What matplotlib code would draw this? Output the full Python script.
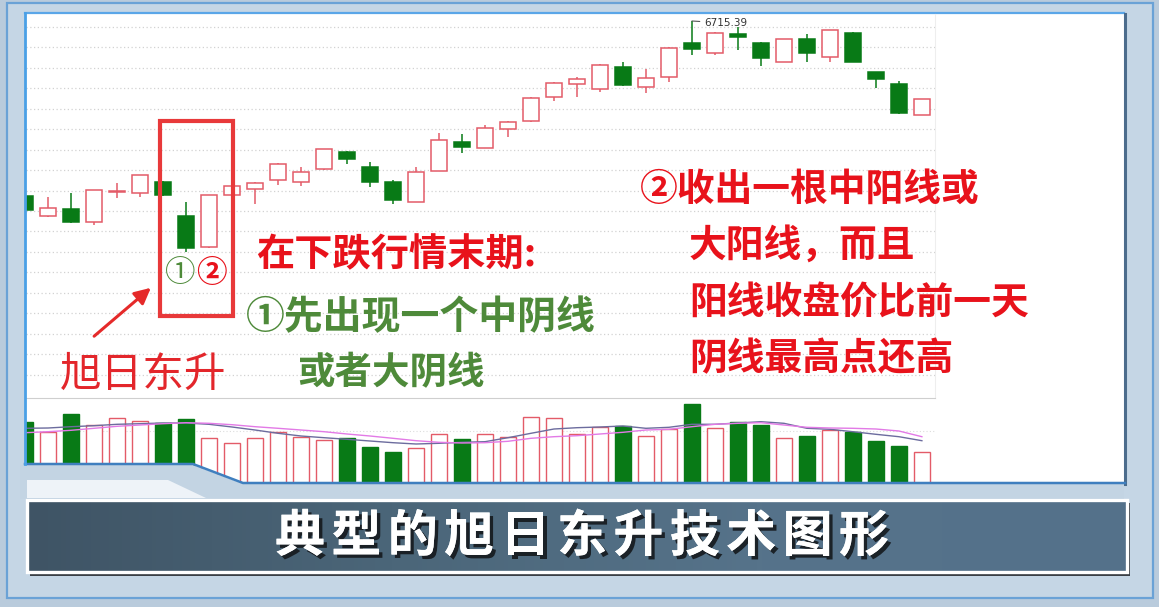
import numpy as np
import matplotlib.pyplot as plt
from matplotlib.patches import Rectangle, Polygon
from matplotlib.colors import LinearSegmentedColormap
import matplotlib.patheffects as pe

CJK = ['Noto Sans CJK SC', 'DejaVu Sans']
plt.rcParams['font.family'] = CJK

# daily candles, index points
opens  = [5840, 5740, 5775, 5710, 5860, 5855, 5910, 5740, 5585, 5845,
          5875, 5920, 5910, 5975, 6060, 5985, 5910, 5810, 5965, 6110,
          6080, 6175, 6215, 6335, 6400, 6375, 6485, 6385, 6435, 6605,
          6555, 6650, 6605, 6510, 6625, 6535, 6655, 6460, 6400, 6245]
highs  = [5850, 5835, 5855, 5870, 5905, 5945, 5915, 5810, 5845, 5890,
          5910, 6005, 5985, 6075, 6065, 6010, 5920, 5985, 6155, 6150,
          6195, 6215, 6335, 6410, 6435, 6500, 6510, 6475, 6585, 6715.39,
          6660, 6685, 6610, 6625, 6650, 6670, 6660, 6460, 6415, 6325]
lows   = [5760, 5735, 5705, 5695, 5830, 5835, 5840, 5560, 5580, 5840,
          5800, 5895, 5890, 5970, 6000, 5885, 5800, 5810, 5965, 6055,
          6080, 6135, 6210, 6315, 6335, 6360, 6390, 6355, 6410, 6545,
          6545, 6570, 6490, 6510, 6510, 6510, 6510, 6380, 6250, 6245]
closes = [5770, 5780, 5710, 5870, 5865, 5945, 5845, 5580, 5845, 5890,
          5905, 6000, 5960, 6075, 6025, 5910, 5820, 5960, 6120, 6085,
          6180, 6210, 6330, 6405, 6425, 6495, 6395, 6430, 6580, 6575,
          6655, 6635, 6530, 6625, 6555, 6670, 6510, 6425, 6255, 6325]
volumes = [1220, 1020, 1380, 1160, 1300, 1240, 1200, 1280, 900, 800,
           900, 1020, 920, 860, 900, 720, 620, 700, 980, 880,
           980, 920, 1320, 1300, 980, 1120, 1140, 940, 1080, 1580,
           1100, 1220, 1160, 900, 940, 1060, 1020, 840, 740, 620]
vol_ma_a = [1094, 1100, 1126, 1146, 1174, 1186, 1200, 1200, 1174, 1120,
            1060, 994, 940, 906, 874, 840, 806, 780, 794, 814,
            826, 906, 994, 1080, 1106, 1120, 1140, 1094, 1114, 1174,
            1174, 1200, 1226, 1194, 1094, 1074, 1026, 974, 926, 846]
vol_ma_b = [1006, 1026, 1054, 1094, 1134, 1160, 1186, 1206, 1194, 1166,
            1126, 1094, 1060, 1026, 980, 940, 894, 846, 814, 800,
            806, 834, 894, 926, 946, 980, 1014, 1060, 1074, 1126,
            1174, 1194, 1206, 1160, 1114, 1100, 1094, 1080, 1040, 926]

peak_idx = 29
peak_label = "6715.39"
title = "典型的旭日东升技术图形"
label_pattern = "旭日东升"
left_lines = ["在下跌行情末期:", "①先出现一个中阴线", "或者大阴线"]
right_lines = ["②收出一根中阳线或", "大阳线，而且", "阳线收盘价比前一天", "阴线最高点还高"]

RED = '#e35b68'
GREEN = '#087a16'
TXT_RED = '#e8121b'
TXT_GREEN = '#4e8a3a'

W, H = 1159, 607
fig = plt.figure(figsize=(W / 100, H / 100), dpi=100)
fig.patch.set_facecolor('#b9cbdc')


def frac(x0, y0, x1, y1):
    return [x0 / W, 1 - y1 / H, (x1 - x0) / W, (y1 - y0) / H]


# ---- background frame, white panel, title bar (pixel space)
bg = fig.add_axes([0, 0, 1, 1], zorder=0)
bg.set_xlim(0, W)
bg.set_ylim(H, 0)
bg.axis('off')
bg.add_patch(Rectangle((7, 3), 1146, 595, fc='#c5d6e5', ec='#6aa2d6', lw=1.6))
bg.add_patch(Rectangle((25, 13), 1099, 470, fc='white', ec='none'))
bg.plot([25, 1124], [13, 13], color='#5aa6e8', lw=1.6)
bg.plot([1125, 1125], [14, 484], color='#4c6c8c', lw=2.2)

grad = np.linspace(0, 1, 256).reshape(1, -1)
bar_cmap = LinearSegmentedColormap.from_list('bar', ['#3f5465', '#4b6679', '#56738a', '#54718a'])
bg.imshow(grad, cmap=bar_cmap, extent=(27, 1127, 572, 500), aspect='auto', zorder=2)
bg.add_patch(Rectangle((29.5, 574), 1100, 2, fc='#3a3f45', ec='none', zorder=2))
bg.add_patch(Rectangle((1128, 502.5), 2, 72, fc='#3a3f45', ec='none', zorder=2))
bg.add_patch(Rectangle((27, 500), 1100, 72, fill=False, ec='white', lw=2.4, zorder=3))
bg.set_xlim(0, W)
bg.set_ylim(H, 0)

# ---- price panel
n = len(opens)
x = np.arange(n)
pax = fig.add_axes(frac(26, 14, 935, 398), zorder=1)
pax.set_facecolor('none')
pax.set_xlim(0.04, 39.57)
pax.set_ylim(4830.39, 6750.39)
pax.set_xticks([])
pax.set_yticks([])
for s in ['top', 'left']:
    pax.spines[s].set_visible(False)
pax.spines['right'].set_color('#eeeeee')
pax.spines['bottom'].set_color('#cfcfcf')
pax.hlines(np.arange(6685.39, 4880, -102.25), 0.04, 39.57,
           colors='#d2d2d2', linestyles=(0, (1, 2)), lw=0.9, zorder=1)

for i in x:
    o, h, l, c = opens[i], highs[i], lows[i], closes[i]
    up = c >= o
    col = RED if up else GREEN
    pax.vlines(i, l, h, color=col, lw=1.1, zorder=2)
    pax.bar(i, max(abs(c - o), 2), bottom=min(o, c), width=0.7,
            facecolor='white' if up else GREEN, edgecolor=col, lw=1.1, zorder=3)

pax.annotate(peak_label, xy=(peak_idx, highs[peak_idx]), xytext=(12, -2),
             textcoords='offset pixels', fontsize=7.5, color='#333333',
             ha='left', va='center', family='DejaVu Sans',
             arrowprops=dict(arrowstyle='-', color='#555555', lw=0.8,
                             shrinkA=1, shrinkB=0))

# ---- volume panel
vax = fig.add_axes(frac(26, 398, 935, 483), zorder=1)
vax.set_facecolor('none')
vax.set_xlim(0.04, 39.57)
vax.set_ylim(0, 1700)
vax.set_xticks([])
vax.set_yticks([])
for s in vax.spines.values():
    s.set_visible(False)
vax.axhline(1040, color='#dddddd', ls=(0, (1, 2)), lw=0.8)
up_mask = np.array(closes) >= np.array(opens)
vax.bar(x[up_mask], np.array(volumes)[up_mask], width=0.7, facecolor='white',
        edgecolor=RED, lw=1.0, zorder=2)
vax.bar(x[~up_mask], np.array(volumes)[~up_mask], width=0.7, facecolor=GREEN,
        edgecolor=GREEN, lw=1.0, zorder=2)
vax.plot(x, vol_ma_a, color='#6c6c9e', lw=1.0, zorder=3)
vax.plot(x, vol_ma_b, color='#e27ae6', lw=1.0, zorder=3)

# ---- overlay: stepped cut-out and annotations (pixel space)
ov = fig.add_axes([0, 0, 1, 1], zorder=5)
ov.set_xlim(0, W)
ov.set_ylim(H, 0)
ov.axis('off')
ov.patch.set_visible(False)
ov.add_patch(Polygon([(20, 465), (193, 465), (243, 484), (1124, 484), (1124, 498.5), (20, 498.5)],
                     closed=True, fc='#c3d4e3', ec='none'))
ov.add_patch(Polygon([(27, 480), (168, 480), (206, 498), (27, 498)],
                     closed=True, fc='#eef3f8', ec='none'))
ov.plot([25, 193, 243, 1125], [464, 464, 483, 483], color='#3f7fbf', lw=1.8)
ov.plot([25, 25], [13, 464], color='#4aa0e6', lw=2.0)

ov.add_patch(Rectangle((160, 121), 73, 195, fill=False, ec='#e8393a', lw=3.0))
ov.text(180, 273, '①', color=TXT_GREEN, fontsize=22, ha='center', va='center')
ov.text(211, 273, '②', color=TXT_RED, fontsize=22, fontweight='bold', ha='center', va='center')
ov.annotate('', xy=(153, 286), xytext=(92, 338),
            arrowprops=dict(arrowstyle='-|>', color='#e52a2a', lw=2.2, mutation_scale=24))
ov.text(143, 375, label_pattern, color='#e3262b', fontsize=30, ha='center', va='center')

ov.text(256, 255, left_lines[0], color=TXT_RED, fontsize=27.5, fontweight='bold', ha='left', va='center')
ov.text(246, 318, left_lines[1], color=TXT_GREEN, fontsize=28, fontweight='bold', ha='left', va='center')
ov.text(297, 373, left_lines[2], color=TXT_GREEN, fontsize=27, fontweight='bold', ha='left', va='center')

for k, (xl, line) in enumerate(zip([640, 689, 689, 689], right_lines)):
    ov.text(xl, 189 + 56.5 * k, line, color=TXT_RED, fontsize=27.2,
            fontweight='bold', ha='left', va='center')

shadow = [pe.withSimplePatchShadow(offset=(2.5, -2.5), shadow_rgbFace='#15191d', alpha=0.9), pe.Normal()]
for k, ch in enumerate(title):
    ov.text(300 + 56.4 * k, 537, ch, color='white', fontsize=36, fontweight='bold',
            ha='center', va='center', path_effects=shadow)

fig.savefig('out.png', dpi=100)
